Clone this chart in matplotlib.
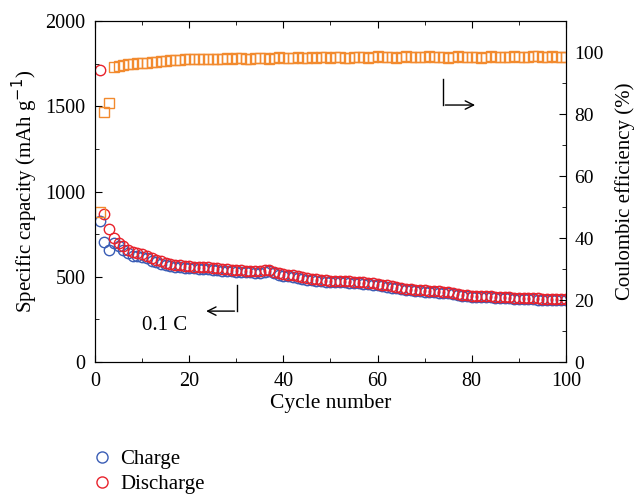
import numpy as np
import matplotlib.pyplot as plt
from matplotlib.lines import Line2D
from matplotlib.ticker import MultipleLocator

plt.rcParams['font.family'] = ['Liberation Serif', 'DejaVu Serif']

cycles = np.arange(1, 101)

discharge = [1710, 870, 780, 730, 700, 680, 660, 645, 640, 635,
             625, 610, 600, 590, 580, 575, 570, 568, 565, 562,
             560, 558, 556, 555, 553, 550, 548, 545, 542, 540,
             538, 537, 536, 535, 535, 540, 542, 530, 520, 515,
             512, 510, 505, 498, 492, 488, 485, 482, 480, 478,
             477, 476, 475, 474, 472, 470, 468, 465, 462, 458,
             455, 450, 445, 440, 435, 430, 428, 425, 422, 420,
             418, 416, 414, 412, 410, 405, 400, 395, 392, 390,
             388, 387, 386, 385, 384, 383, 382, 380, 378, 377,
             376, 375, 374, 373, 372, 371, 370, 370, 369, 368]

charge = [830, 705, 660, 700, 680, 660, 640, 625, 620, 615,
          608, 595, 585, 576, 567, 562, 558, 556, 553, 551,
          549, 547, 545, 544, 542, 539, 537, 534, 532, 530,
          528, 527, 526, 525, 525, 530, 532, 520, 510, 505,
          502, 500, 495, 489, 483, 479, 476, 474, 472, 470,
          469, 468, 467, 466, 464, 462, 460, 457, 454, 450,
          447, 442, 437, 432, 428, 423, 421, 418, 415, 413,
          411, 409, 407, 405, 403, 398, 394, 389, 386, 384,
          382, 381, 380, 379, 378, 377, 376, 374, 372, 371,
          370, 369, 368, 367, 366, 365, 364, 364, 363, 362]

efficiency = [48.5, 80.5, 83.5, 95.3, 95.6, 95.8, 96.0, 96.2, 96.3, 96.5,
              96.6, 96.8, 96.9, 97.0, 97.1, 97.3, 97.4, 97.5, 97.6, 97.6,
              97.7, 97.7, 97.8, 97.8, 97.6, 97.9, 97.9, 98.0, 97.8, 98.0,
              98.1, 97.8, 97.9, 98.0, 98.2, 98.1, 97.9, 98.2, 98.3, 98.1,
              98.0, 98.2, 98.3, 98.1, 98.2, 98.4, 98.2, 98.3, 98.4, 98.2,
              98.3, 98.5, 98.1, 98.2, 98.4, 98.5, 98.3, 98.2, 98.4, 98.6,
              98.3, 98.5, 98.4, 98.0, 98.3, 98.6, 98.4, 98.3, 98.5, 98.4,
              98.6, 98.5, 98.3, 98.4, 98.2, 98.5, 98.6, 98.4, 98.3, 98.5,
              98.4, 98.2, 98.5, 98.6, 98.4, 98.3, 98.5, 98.4, 98.6, 98.5,
              98.3, 98.4, 98.6, 98.7, 98.5, 98.4, 98.6, 98.5, 98.3, 98.4]

blue = '#3a5db5'
red = '#e8222c'
orange = '#f28a2e'

fig = plt.figure(figsize=(6.38, 4.94), dpi=100)
ax = fig.add_axes([0.149, 0.267, 0.738, 0.6905])
ax2 = ax.twinx()

ax.plot(cycles, charge, 'o', ms=7.5, mfc='none', mec=blue, mew=1.0, zorder=3)
ax.plot(cycles, discharge, 'o', ms=7.5, mfc='none', mec=red, mew=1.0, zorder=4)
ax2.plot(cycles, efficiency, 's', ms=7, mfc='none', mec=orange, mew=1.0)

ax.set_xlim(0, 100)
ax.set_ylim(0, 2000)
ax2.set_ylim(0, 110)
ax.xaxis.set_major_locator(MultipleLocator(20))
ax.xaxis.set_minor_locator(MultipleLocator(10))
ax.yaxis.set_major_locator(MultipleLocator(500))
ax.yaxis.set_minor_locator(MultipleLocator(250))
ax2.yaxis.set_minor_locator(MultipleLocator(10))
ax2.set_yticks([0, 20, 40, 60, 80, 100])

ax.tick_params(which='both', direction='in', top=True, labelsize=14.5)
ax.tick_params(which='major', length=5)
ax.tick_params(which='minor', length=3)
ax.tick_params(axis='x', pad=7)
ax.tick_params(axis='y', pad=7)
ax2.tick_params(which='both', direction='in', labelsize=14, pad=6)
ax2.tick_params(which='major', length=5)
ax2.tick_params(which='minor', length=3)

ax.set_xlabel('Cycle number', fontsize=15.5, labelpad=2)
ax.set_ylabel('Specific capacity (mAh g$^{-1}$)', fontsize=15, labelpad=4)
ax2.set_ylabel('Coulombic efficiency (%)', fontsize=15, labelpad=8)

# rate arrow (left axis)
ax.plot([30.1, 30.1], [452, 299], color='black', lw=1)
ax.annotate('', xy=(23.0, 299), xytext=(30.2, 299),
            arrowprops=dict(arrowstyle='->', color='black', lw=1, mutation_scale=15))
ax.text(10, 217, '0.1 C', fontsize=15, va='center')

# efficiency arrow (right axis)
ax2.plot([73.9, 73.9], [91.3, 82.9], color='black', lw=1)
ax2.annotate('', xy=(81.3, 82.9), xytext=(73.8, 82.9),
             arrowprops=dict(arrowstyle='->', color='black', lw=1, mutation_scale=15))

handles = [Line2D([], [], ls='none', marker='o', ms=8, mfc='none', mec=blue, mew=1.0),
           Line2D([], [], ls='none', marker='o', ms=8, mfc='none', mec=red, mew=1.0)]
fig.legend(handles, ['Charge', 'Discharge'], loc='upper left', bbox_to_anchor=(0.128, 0.107),
           frameon=False, fontsize=15, handletextpad=0.25, labelspacing=0.25, handlelength=1.2,
           borderaxespad=0)

fig.savefig('out.png', dpi=100)
